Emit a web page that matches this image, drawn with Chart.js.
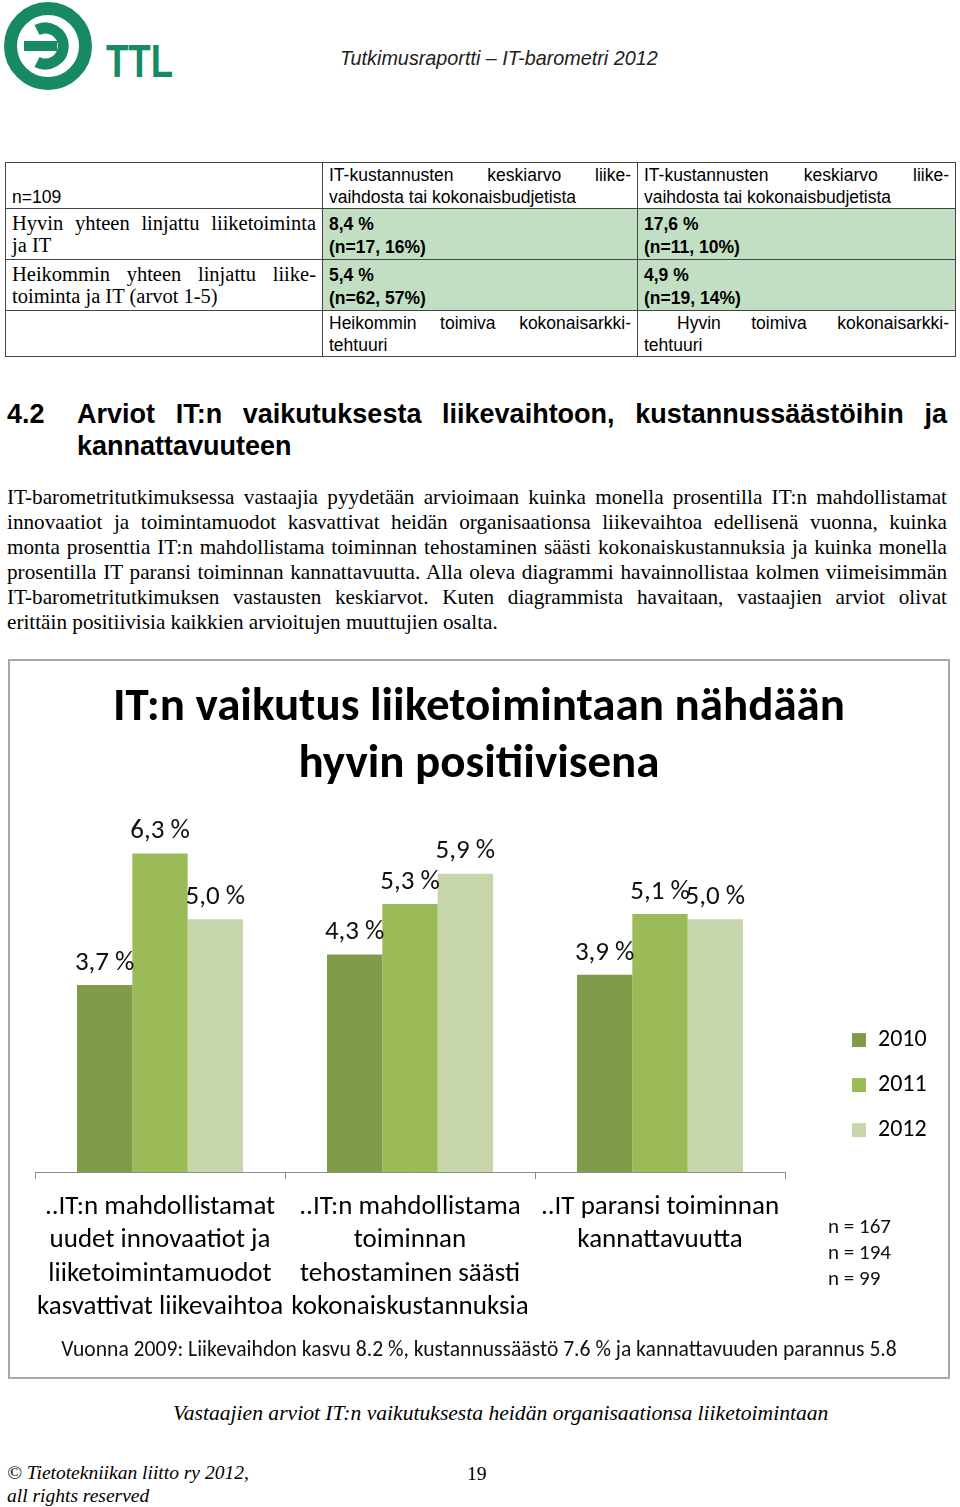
<!DOCTYPE html>
<html>
<head>
<meta charset="utf-8">
<script src="https://cdn.jsdelivr.net/npm/chart.js@4"></script>
<style>
  html, body { margin: 0; padding: 0; background: #fff; }
  body { width: 960px; height: 1507px; position: relative; overflow: hidden; color: #000; }
  .abs { position: absolute; white-space: nowrap; }
  .serif { font-family: "Liberation Serif", "Times New Roman", serif; }
  .sans { font-family: "Liberation Sans", Arial, sans-serif; }
  .calib { font-family: Carlito, Lato, sans-serif; }
  .just { text-align: justify; text-align-last: justify; }
  #tbl { position: absolute; left: 5px; top: 162px; width: 950px; border-collapse: collapse; table-layout: fixed; }
  #tbl td { border: 1.5px solid #444; padding: 0 6px; vertical-align: top; line-height: 22px; overflow: hidden; }
  #tbl td.g { background: #c3dfc3; }
  #tbl .s { font-family: "Liberation Sans", Arial, sans-serif; font-size: 17.5px; }
  #tbl .t { font-family: "Liberation Serif", serif; font-size: 20.5px; }
  #tbl b { font-family: "Liberation Sans", Arial, sans-serif; font-size: 17.5px; }
  .para div { position: absolute; left: 7px; width: 940px; white-space: nowrap; font-size: 21.2px; line-height: 25px; }
  #box { position: absolute; left: 8px; top: 659px; width: 938px; height: 716px; border: 2px solid #a8a8a8; }
</style>
</head>
<body>

<svg class="abs" style="left:0;top:0" width="190" height="95" viewBox="0 0 190 95">
  <g fill="none" stroke="#178a63">
    <circle cx="48" cy="46" r="37.5" stroke-width="13"/>
    <path d="M 37 30 A 18 18 0 1 1 37 62" stroke-width="11"/>
  </g>
  <rect x="24" y="41" width="33" height="10" fill="#178a63"/>
  <text x="106" y="77" fill="#178a63" font-family="Liberation Sans, Arial, sans-serif" font-weight="bold" font-size="46" textLength="67" lengthAdjust="spacingAndGlyphs">TTL</text>
</svg>
<div class="abs sans" style="left:340px;top:47px;font-size:19.8px;font-style:italic;color:#222">Tutkimusraportti – IT-barometri 2012</div>

<table id="tbl">
  <colgroup><col style="width:317px"><col style="width:315px"><col style="width:318px"></colgroup>
  <tr style="height:45px">
    <td class="s" style="vertical-align:bottom">n=109</td>
    <td class="s" style="padding-top:1px"><div class="just">IT-kustannusten keskiarvo liike-</div><div>vaihdosta tai kokonaisbudjetista</div></td>
    <td class="s" style="padding-top:1px"><div class="just">IT-kustannusten keskiarvo liike-</div><div>vaihdosta tai kokonaisbudjetista</div></td>
  </tr>
  <tr style="height:49px">
    <td class="t" style="padding-top:3px"><div class="just">Hyvin yhteen linjattu liiketoiminta</div><div>ja IT</div></td>
    <td class="g" style="padding-top:4px"><b>8,4 %</b><br><b>(n=17, 16%)</b></td>
    <td class="g" style="padding-top:4px"><b>17,6 %</b><br><b>(n=11, 10%)</b></td>
  </tr>
  <tr style="height:49px">
    <td class="t" style="padding-top:3px"><div class="just">Heikommin yhteen linjattu liike-</div><div>toiminta ja IT (arvot 1-5)</div></td>
    <td class="g" style="padding-top:4px"><b>5,4 %</b><br><b>(n=62, 57%)</b></td>
    <td class="g" style="padding-top:4px"><b>4,9 %</b><br><b>(n=19, 14%)</b></td>
  </tr>
  <tr style="height:46px">
    <td></td>
    <td class="s" style="padding-top:1px"><div class="just">Heikommin toimiva kokonaisarkki-</div><div>tehtuuri</div></td>
    <td class="s" style="padding-top:1px"><div class="just" style="padding-left:33px">Hyvin toimiva kokonaisarkki-</div><div>tehtuuri</div></td>
  </tr>
</table>

<div class="abs sans" style="left:7px;top:399px;font-size:27px;font-weight:bold">4.2</div>
<div class="abs sans just" style="left:77px;top:399px;width:870px;font-size:27px;font-weight:bold">Arviot IT:n vaikutuksesta liikevaihtoon, kustannussäästöihin ja</div>
<div class="abs sans" style="left:77px;top:431px;font-size:27px;font-weight:bold">kannattavuuteen</div>

<div class="para serif">
  <div class="just" style="top:485px">IT-barometritutkimuksessa vastaajia pyydetään arvioimaan kuinka monella prosentilla IT:n mahdollistamat</div>
  <div class="just" style="top:510px">innovaatiot ja toimintamuodot kasvattivat heidän organisaationsa liikevaihtoa edellisenä vuonna, kuinka</div>
  <div class="just" style="top:535px">monta prosenttia IT:n mahdollistama toiminnan tehostaminen säästi kokonaiskustannuksia ja kuinka monella</div>
  <div class="just" style="top:560px">prosentilla IT paransi toiminnan kannattavuutta. Alla oleva diagrammi havainnollistaa kolmen viimeisimmän</div>
  <div class="just" style="top:585px">IT-barometritutkimuksen vastausten keskiarvot. Kuten diagrammista havaitaan, vastaajien arviot olivat</div>
  <div style="top:610px">erittäin positiivisia kaikkien arvioitujen muuttujien osalta.</div>
</div>

<div id="box"></div>
<canvas id="chart" width="938" height="714" style="position:absolute;left:9px;top:661px"></canvas>
<div id="nlist" class="abs calib" style="left:828px;top:1213px;font-size:21px;line-height:26px;color:#111"></div>
<div class="abs calib" style="left:0;width:958px;top:1335px;text-align:center;font-size:21.6px;color:#111">Vuonna 2009: Liikevaihdon kasvu 8.2 %, kustannussäästö 7.6 % ja kannattavuuden parannus 5.8</div>

<div class="abs serif" style="left:173px;top:1401px;font-size:21.6px;font-style:italic">Vastaajien arviot IT:n vaikutuksesta heidän organisaationsa liiketoimintaan</div>
<div class="abs serif" style="left:7px;top:1461px;font-size:19.5px;font-style:italic;line-height:23px">© Tietotekniikan liitto ry 2012,<br>all rights reserved</div>
<div class="abs serif" style="left:467px;top:1463px;font-size:19.5px">19</div>

<script>
// chart data
const categories = [
  ['..IT:n mahdollistamat', 'uudet innovaatiot ja', 'liiketoimintamuodot', 'kasvattivat liikevaihtoa'],
  ['..IT:n mahdollistama', 'toiminnan', 'tehostaminen säästi', 'kokonaiskustannuksia'],
  ['..IT paransi toiminnan', 'kannattavuutta']
];
const years = ['2010', '2011', '2012'];
const values2010 = [3.7, 4.3, 3.9];
const values2011 = [6.3, 5.3, 5.1];
const values2012 = [5.0, 5.9, 5.0];
const yearColors = ['#7f9c4b', '#9bbb59', '#c6d6aa'];
const sampleSizes = ['n = 167', 'n = 194', 'n = 99'];
const titleLines = ['IT:n vaikutus liiketoimintaan nähdään', 'hyvin positiivisena'];

const FONT = "Carlito, Lato, sans-serif";

document.getElementById('nlist').innerHTML = sampleSizes.join('<br>');

const fmt = v => v.toFixed(1).replace('.', ',') + ' %';

// value labels above the bars
const barLabels = {
  id: 'barLabels',
  afterDatasetsDraw(chart) {
    const ctx = chart.ctx;
    ctx.save();
    ctx.font = '27px ' + FONT;
    ctx.fillStyle = '#111';
    ctx.textAlign = 'center';
    ctx.textBaseline = 'middle';
    chart.data.datasets.forEach((ds, i) => {
      chart.getDatasetMeta(i).data.forEach((bar, j) => {
        ctx.fillText(fmt(ds.data[j]), bar.x, bar.y - 22);
      });
    });
    ctx.restore();
  }
};

// legend sits lower right, a bit away from the plot like in the original
const legendPlace = {
  id: 'legendPlace',
  afterLayout(chart) {
    const lg = chart.legend, area = chart.chartArea;
    const h = lg.height;
    lg.left = area.right + 46;
    lg.right = lg.left + 115;
    lg.width = 115;
    lg.bottom = area.bottom - 9;
    lg.top = lg.bottom - h;
  }
};

new Chart(document.getElementById('chart'), {
  type: 'bar',
  data: {
    labels: categories,
    datasets: [
      { label: years[0], data: values2010, backgroundColor: yearColors[0] },
      { label: years[1], data: values2011, backgroundColor: yearColors[1] },
      { label: years[2], data: values2012, backgroundColor: yearColors[2] }
    ]
  },
  options: {
    responsive: false,
    animation: false,
    devicePixelRatio: 1,
    barPercentage: 1,
    categoryPercentage: 0.664,
    layout: { padding: { left: 26, right: 24, top: 0, bottom: 40 } },
    plugins: {
      title: {
        display: true,
        text: titleLines,
        color: '#000',
        font: { family: FONT, size: 47, weight: 'bold', lineHeight: 1.213 },
        padding: { top: 19, bottom: 24 }
      },
      legend: {
        position: 'right',
        align: 'end',
        fullSize: false,
        maxWidth: 90,
        labels: {
          boxWidth: 14,
          boxHeight: 14,
          padding: 21,
          color: '#000',
          font: { family: FONT, size: 24 }
        }
      },
      tooltip: { enabled: false }
    },
    scales: {
      x: {
        grid: { display: true, drawOnChartArea: false, drawTicks: true, tickLength: 7, color: '#8c8c8c', offset: true },
        border: { display: true, color: '#8c8c8c', width: 1 },
        ticks: { color: '#000', padding: 11, maxRotation: 0, autoSkip: false, font: { family: FONT, size: 27, lineHeight: 1.24 } }
      },
      y: {
        position: 'right',
        min: 0,
        max: 7,
        grid: { display: false, drawTicks: false },
        border: { display: false },
        ticks: { display: false },
        afterFit(scale) { scale.width = 48; }
      }
    }
  },
  plugins: [barLabels, legendPlace]
});
</script>
</body>
</html>
